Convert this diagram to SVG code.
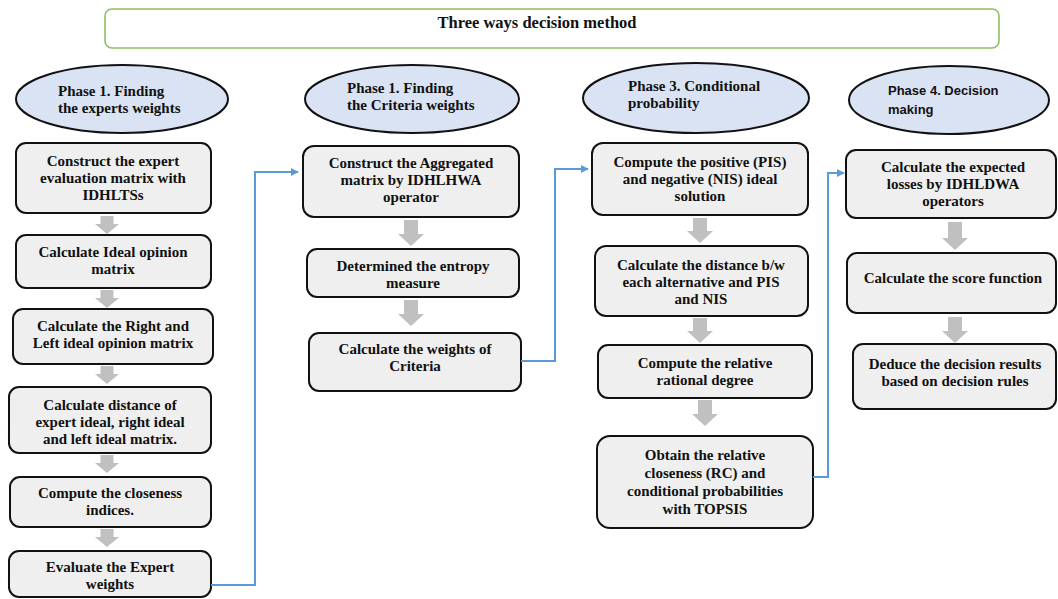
<svg xmlns="http://www.w3.org/2000/svg" width="1058" height="599" viewBox="0 0 1058 599">
<defs>
<style>
.bg{fill:#ffffff}
.title{fill:#ffffff;stroke:#8cc063;stroke-width:1.6}
.ell{fill:#dae3f3;stroke:#111;stroke-width:2}
.box{fill:#efefef;stroke:#111;stroke-width:2}
.t{font-family:"Liberation Serif","Times New Roman",serif;font-weight:bold;font-size:15px;fill:#111;text-anchor:middle}
.tl{font-family:"Liberation Serif","Times New Roman",serif;font-weight:bold;font-size:15px;fill:#111}
.ts{font-family:"Liberation Sans",Arial,sans-serif;font-weight:bold;font-size:13px;fill:#111}
.tt{font-family:"Liberation Serif","Times New Roman",serif;font-weight:bold;font-size:16.5px;fill:#111;text-anchor:middle}
.ga{fill:#c0c0c0}
.con{fill:none;stroke:#5b9bd5;stroke-width:2}
</style>
<marker id="ah" viewBox="0 0 10 10" refX="9" refY="5" markerWidth="4" markerHeight="4" orient="auto" markerUnits="strokeWidth">
<path d="M0,0 L10,5 L0,10 z" fill="#5b9bd5"/>
</marker>
</defs>
<rect class="bg" x="0" y="0" width="1058" height="599"/>

<g id="title">
<rect class="title" x="105" y="9" width="894" height="39" rx="7"/>
<text class="tt" x="537" y="28">Three ways decision method</text>
</g>

<!-- Column 1 -->
<g id="phase1a">
<ellipse class="ell" cx="122" cy="99" rx="106" ry="34"/>
<text class="tl" x="58" y="96">Phase 1. Finding</text>
<text class="tl" x="58" y="113">the experts weights</text>
</g>
<g id="c1b1">
<rect class="box" x="16" y="143" width="195" height="70" rx="10"/>
<text class="t" x="113" y="166">Construct the expert</text>
<text class="t" x="113" y="183">evaluation matrix with</text>
<text class="t" x="113" y="200">IDHLTSs</text>
</g>
<g id="c1b2">
<rect class="box" x="16" y="235" width="195" height="53" rx="10"/>
<text class="t" x="113" y="257">Calculate Ideal opinion</text>
<text class="t" x="113" y="274">matrix</text>
</g>
<g id="c1b3">
<rect class="box" x="13" y="309" width="200" height="55" rx="10"/>
<text class="t" x="113" y="331">Calculate the Right and</text>
<text class="t" x="113" y="348">Left ideal opinion matrix</text>
</g>
<g id="c1b4">
<rect class="box" x="9" y="387" width="202" height="66" rx="10"/>
<text class="t" x="110" y="410">Calculate distance of</text>
<text class="t" x="110" y="427">expert ideal, right ideal</text>
<text class="t" x="110" y="444">and left ideal matrix.</text>
</g>
<g id="c1b5">
<rect class="box" x="10" y="477" width="201" height="50" rx="10"/>
<text class="t" x="110" y="498">Compute the closeness</text>
<text class="t" x="110" y="515">indices.</text>
</g>
<g id="c1b6">
<rect class="box" x="9" y="551" width="202" height="46" rx="10"/>
<text class="t" x="110" y="572">Evaluate the Expert</text>
<text class="t" x="110" y="589">weights</text>
</g>

<!-- Column 2 -->
<g id="phase2">
<ellipse class="ell" cx="412" cy="99" rx="107" ry="34"/>
<text class="tl" x="347" y="93">Phase 1. Finding</text>
<text class="tl" x="347" y="110">the Criteria weights</text>
</g>
<g id="c2b1">
<rect class="box" x="303" y="146" width="216" height="71" rx="11"/>
<text class="t" x="411" y="168">Construct the Aggregated</text>
<text class="t" x="411" y="185">matrix by IDHLHWA</text>
<text class="t" x="411" y="202">operator</text>
</g>
<g id="c2b2">
<rect class="box" x="307" y="249" width="212" height="48" rx="10"/>
<text class="t" x="413" y="271">Determined the entropy</text>
<text class="t" x="413" y="288">measure</text>
</g>
<g id="c2b3">
<rect class="box" x="309" y="333" width="212" height="58" rx="10"/>
<text class="t" x="415" y="354">Calculate the weights of</text>
<text class="t" x="415" y="371">Criteria</text>
</g>

<!-- Column 3 -->
<g id="phase3">
<ellipse class="ell" cx="696" cy="98" rx="113" ry="35"/>
<text class="tl" x="628" y="91">Phase 3. Conditional</text>
<text class="tl" x="628" y="108">probability</text>
</g>
<g id="c3b1">
<rect class="box" x="592" y="143" width="216" height="72" rx="11"/>
<text class="t" x="700" y="167">Compute the positive (PIS)</text>
<text class="t" x="700" y="184">and negative (NIS) ideal</text>
<text class="t" x="700" y="201">solution</text>
</g>
<g id="c3b2">
<rect class="box" x="595" y="246" width="213" height="70" rx="11"/>
<text class="t" x="701" y="270">Calculate the distance b/w</text>
<text class="t" x="701" y="287">each alternative and PIS</text>
<text class="t" x="701" y="304">and NIS</text>
</g>
<g id="c3b3">
<rect class="box" x="598" y="345" width="214" height="53" rx="10"/>
<text class="t" x="705" y="368">Compute the relative</text>
<text class="t" x="705" y="385">rational degree</text>
</g>
<g id="c3b4">
<rect class="box" x="597" y="436" width="216" height="92" rx="13"/>
<text class="t" x="705" y="460">Obtain the relative</text>
<text class="t" x="705" y="478">closeness (RC) and</text>
<text class="t" x="705" y="496">conditional probabilities</text>
<text class="t" x="705" y="514">with TOPSIS</text>
</g>

<!-- Column 4 -->
<g id="phase4">
<ellipse class="ell" cx="949" cy="100" rx="100" ry="34"/>
<text class="ts" x="888" y="95">Phase 4. Decision</text>
<text class="ts" x="888" y="114">making</text>
</g>
<g id="c4b1">
<rect class="box" x="846" y="150" width="210" height="68" rx="10"/>
<text class="t" x="953" y="172">Calculate the expected</text>
<text class="t" x="953" y="189">losses by IDHLDWA</text>
<text class="t" x="953" y="206">operators</text>
</g>
<g id="c4b2">
<rect class="box" x="847" y="253" width="209" height="60" rx="10"/>
<text class="t" x="953" y="283">Calculate the score function</text>
</g>
<g id="c4b3">
<rect class="box" x="853" y="344" width="203" height="65" rx="10"/>
<text class="t" x="955" y="369">Deduce the decision results</text>
<text class="t" x="955" y="386">based on decision rules</text>
</g>

<!-- Connectors -->
<g id="connectors">
<path class="ga" d="M100.5,216 h13 v8 h5.5 l-12,10 l-12,-10 h5.5 z"/>
<path class="ga" d="M100.5,290 h13 v8 h5.5 l-12,10 l-12,-10 h5.5 z"/>
<path class="ga" d="M100.5,366 h13 v8 h5.5 l-12,10 l-12,-10 h5.5 z"/>
<path class="ga" d="M100.5,455 h13 v8 h5.5 l-12,10 l-12,-10 h5.5 z"/>
<path class="ga" d="M100.5,529 h13 v8 h5.5 l-12,10 l-12,-10 h5.5 z"/>

<path class="ga" d="M404,220 h14 v14 h6 l-13,12 l-13,-12 h6 z"/>
<path class="ga" d="M404,300 h14 v14 h6 l-13,12 l-13,-12 h6 z"/>

<path class="ga" d="M693,218 h14 v13 h6 l-13,12 l-13,-12 h6 z"/>
<path class="ga" d="M693,318 h14 v13 h6 l-13,12 l-13,-12 h6 z"/>
<path class="ga" d="M698,400 h14 v14 h6 l-13,12 l-13,-12 h6 z"/>

<path class="ga" d="M948,222 h14 v16 h6 l-13,12 l-13,-12 h6 z"/>
<path class="ga" d="M948,317 h14 v14 h6 l-13,12 l-13,-12 h6 z"/>

<path class="con" d="M211,585 H255 V172 H298" marker-end="url(#ah)"/>
<path class="con" d="M521,361 H555 V169 H588" marker-end="url(#ah)"/>
<path class="con" d="M813,477 H828 V173 H844" marker-end="url(#ah)"/>
</g>
</svg>
